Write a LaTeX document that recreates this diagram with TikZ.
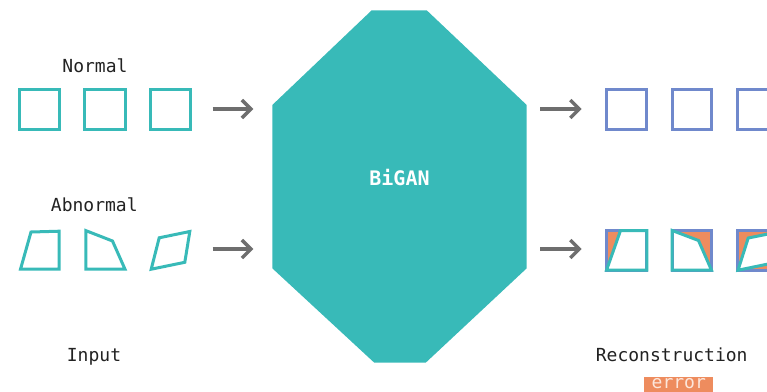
\documentclass[tikz,border=0pt]{standalone}
\usepackage{fontspec}
\newfontfamily\mono{DejaVu Sans Mono}
\usetikzlibrary{arrows.meta}
\definecolor{tealc}{HTML}{38BAB8}
\definecolor{bluec}{HTML}{7089CC}
\definecolor{orangec}{HTML}{EE8C5E}
\definecolor{grayc}{HTML}{6E6E6E}
\definecolor{textc}{HTML}{222222}
\definecolor{errtext}{HTML}{FCE6DA}
\begin{document}
\begin{tikzpicture}[x=1pt,y=-1pt,
  inshape/.style={draw=tealc, line width=3pt, line join=miter},
  outsq/.style={draw=bluec, line width=3pt},
  errfill/.style={fill=orangec},
  flow/.style={draw=grayc, line width=3.4pt, -{Straight Barb[length=9pt,width=18pt]}},
  lbl/.style={font=\mono\fontsize{18}{20}\selectfont, text=textc, inner sep=0pt, anchor=base},
  core/.style={fill=tealc}]
\useasboundingbox (0,0) rectangle (767,391);
\clip (0,0) rectangle (767,391);

% BiGAN octagon
\fill[core] (371.7,10.3) -- (426.7,10.3) -- (526.7,105) -- (526.7,268.3) -- (425.7,362.7) -- (374.3,362.7) -- (272.3,268.3) -- (272.3,105) -- cycle;
\node[font=\mono\bfseries\fontsize{20}{22}\selectfont, text=white, inner sep=0pt, anchor=base] (bigan) at (399.5,185.7) {BiGAN};

% labels
\node[lbl] (normal) at (95,72.3) {Normal};
\node[lbl] (abnormal) at (94.3,211.7) {Abnormal};
\node[lbl] (input) at (94,361.7) {Input};
\node[lbl] (recon) at (671.7,361.7) {Reconstruction};
\fill[errfill] (644.3,376.7) rectangle (713.3,396);
\node[lbl, text=errtext] (err) at (678.8,388.8) {error};

% input normal squares
\draw[inshape] (19.8,89.2) rectangle (59.2,129.2);
\draw[inshape] (84.8,89.2) rectangle (125.2,129.2);
\draw[inshape] (150.5,89.2) rectangle (190.8,129.2);

% input abnormal shapes
\draw[inshape] (31,232) -- (59.2,231.2) -- (59.2,269.2) -- (20.5,269.2) -- cycle;
\draw[inshape] (85.8,230.6) -- (112.5,241) -- (125,269.2) -- (85.8,269.2) -- cycle;
\draw[inshape] (159.2,237.8) -- (189.8,231.5) -- (184.8,262.3) -- (151.2,269.2) -- cycle;

% arrows
\coordinate (a1s) at (212.7,109);
\coordinate (a1e) at (253.3,109);
\coordinate (a2s) at (212.7,249);
\coordinate (a2e) at (253.3,249);
\coordinate (b1s) at (540,109);
\coordinate (b1e) at (581.7,109);
\coordinate (b2s) at (540,249);
\coordinate (b2e) at (581.7,249);
\draw[flow] (a1s) -- (a1e);
\draw[flow] (a2s) -- (a2e);
\draw[flow] (b1s) -- (b1e);
\draw[flow] (b2s) -- (b2e);

% reconstruction normal
\draw[outsq] (606.5,89.8) rectangle (646.8,129.5);
\draw[outsq] (672.2,89.8) rectangle (711.8,129.5);
\draw[outsq] (737.2,89.8) rectangle (777,129.5);

% reconstruction abnormal
\fill[errfill] (606.5,230.5) rectangle (646.8,270.2);
\fill[white] (620.5,230.5) -- (646.8,230.5) -- (646.8,270.2) -- (606.5,270.2) -- cycle;
\draw[outsq] (606.5,230.5) rectangle (646.8,270.2);
\draw[inshape] (620.5,230.5) -- (646.8,230.5) -- (646.8,270.2) -- (606.5,270.2) -- cycle;

\fill[errfill] (672.2,230.5) rectangle (711.8,270.2);
\fill[white] (672.2,230.5) -- (698.5,240.5) -- (711.5,270.2) -- (672.2,270.2) -- cycle;
\draw[outsq] (672.2,230.5) rectangle (711.8,270.2);
\draw[inshape] (672.2,230.5) -- (698.5,240.5) -- (711.5,270.2) -- (672.2,270.2) -- cycle;

\fill[errfill] (737.2,230.5) rectangle (777,270.2);
\fill[white] (748.2,238) -- (778,232) -- (773,263) -- (738,270.2) -- cycle;
\draw[outsq] (737.2,230.5) rectangle (777,270.2);
\draw[inshape] (748.2,238) -- (778,232) -- (773,263) -- (738,270.2) -- cycle;
\end{tikzpicture}
\end{document}
